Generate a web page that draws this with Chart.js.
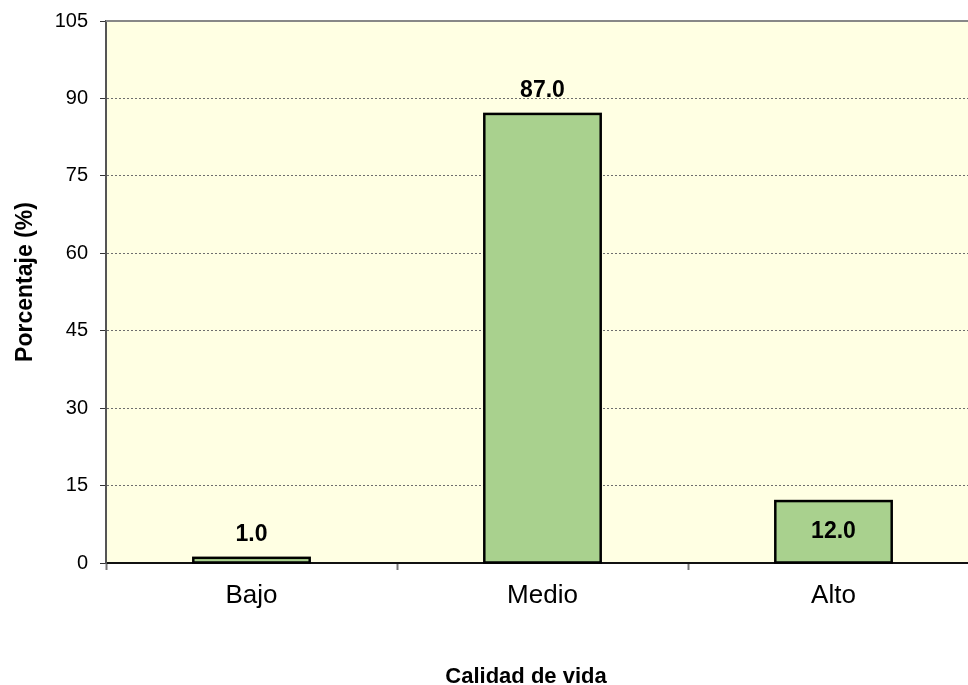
<!DOCTYPE html>
<html>
<head>
<meta charset="utf-8">
<script src="https://cdn.jsdelivr.net/npm/chart.js@4.4.1/dist/chart.umd.min.js"></script>
<style>
    html, body { margin: 0; padding: 0; background: #fff; overflow: hidden; }
    #wrap { width: 980px; height: 685px; }
</style>
</head>
<body>
<div id="wrap"><canvas id="chart" width="980" height="685"></canvas></div>
<script>
// Data
const categories = ['Bajo', 'Medio', 'Alto'];
const percentages = [1.0, 87.0, 12.0];
const yTicks = [0, 15, 30, 45, 60, 75, 90, 105];
const xTitle = 'Calidad de vida';
const yTitle = 'Porcentaje (%)';

// label for these categories goes in the middle of the bar
const insideLabels = ['Alto'];

const FONT = "'Liberation Sans', Arial, sans-serif";

// plot background + top border
const plotBackground = {
    id: 'plotBackground',
    beforeDraw(chart) {
        const { ctx, chartArea: a } = chart;
        ctx.save();
        ctx.fillStyle = '#FFFFE3';
        ctx.fillRect(a.left, a.top, a.right - a.left, a.bottom - a.top);
        ctx.restore();
    },
    afterDatasetsDraw(chart) {
        const { ctx, chartArea: a } = chart;
        ctx.save();
        ctx.strokeStyle = '#888888';
        ctx.lineWidth = 2;
        ctx.beginPath();
        ctx.moveTo(a.left, a.top);
        ctx.lineTo(a.right, a.top);
        ctx.stroke();
        ctx.restore();
    }
};

// Excel style outline, centred on the bar edge (Chart.js draws it inside)
const barOutline = {
    id: 'barOutline',
    afterDatasetsDraw(chart) {
        const { ctx } = chart;
        ctx.save();
        ctx.strokeStyle = '#000';
        ctx.lineWidth = 2.5;
        chart.getDatasetMeta(0).data.forEach(bar => {
            const { x, y, base, width } = bar.getProps(['x', 'y', 'base', 'width'], true);
            ctx.strokeRect(x - width / 2, y, width, base - y);
        });
        ctx.restore();
    }
};

// axis titles (Excel puts them a bit off the plot centre)
const axisTitles = {
    id: 'axisTitles',
    afterDraw(chart) {
        const { ctx, chartArea: a } = chart;
        ctx.save();
        ctx.fillStyle = '#000';
        ctx.textAlign = 'center';
        ctx.textBaseline = 'alphabetic';
        ctx.font = 'bold 22px ' + FONT;
        ctx.fillText(xTitle, 526, 683);
        ctx.translate(32, (a.top + a.bottom) / 2 - 10);
        ctx.rotate(-Math.PI / 2);
        ctx.font = 'bold 23px ' + FONT;
        ctx.fillText(yTitle, 0, 0);
        ctx.restore();
    }
};

// value labels
const valueLabels = {
    id: 'valueLabels',
    afterDatasetsDraw(chart) {
        const { ctx } = chart;
        const meta = chart.getDatasetMeta(0);
        ctx.save();
        ctx.font = 'bold 23px ' + FONT;
        ctx.fillStyle = '#000';
        ctx.textAlign = 'center';
        ctx.textBaseline = 'middle';
        meta.data.forEach((bar, i) => {
            const text = percentages[i].toFixed(1);
            let y;
            if (insideLabels.includes(categories[i])) {
                y = (bar.y + bar.base) / 2;
            } else {
                y = bar.y - 23;
            }
            ctx.fillText(text, bar.x, y);
        });
        ctx.restore();
    }
};

new Chart(document.getElementById('chart'), {
    type: 'bar',
    data: {
        labels: categories,
        datasets: [{
            data: percentages,
            backgroundColor: '#A9D18E',
            borderWidth: 0,
            barPercentage: 0.4,
            categoryPercentage: 1.0
        }]
    },
    options: {
        responsive: false,
        animation: false,
        layout: { padding: { top: 21, right: 1, left: 0, bottom: 0 } },
        plugins: {
            legend: { display: false },
            tooltip: { enabled: false }
        },
        scales: {
            x: {
                offset: true,
                border: { color: '#111', width: 2 },
                grid: {
                    offset: true,
                    drawOnChartArea: false,
                    drawTicks: true,
                    tickLength: 7,
                    tickWidth: 2,
                    tickColor: '#777'
                },
                ticks: {
                    color: '#000',
                    padding: 10,
                    font: { family: FONT, size: 26 }
                },
                afterFit(scale) {
                    scale.height = 122;
                    scale.paddingLeft = 0;
                    scale.paddingRight = 0;
                }
            },
            y: {
                min: 0,
                max: 105,
                afterBuildTicks(scale) {
                    scale.ticks = yTicks.map(v => ({ value: v }));
                },
                border: { color: '#555', width: 2, dash: [2, 2] },
                grid: {
                    color: ctx => (ctx.tick && (ctx.tick.value === 0 || ctx.tick.value === 105)) ? 'rgba(0,0,0,0)' : '#6e6e6e',
                    lineWidth: 1,
                    drawTicks: true,
                    tickLength: 6,
                    tickColor: '#333',
                    tickBorderDash: [0, 0]
                },
                ticks: {
                    color: '#000',
                    padding: 12,
                    font: { family: FONT, size: 20 }
                },
                afterFit(scale) {
                    scale.width = 106;
                    scale.paddingTop = 0;
                    scale.paddingBottom = 0;
                }
            }
        }
    },
    plugins: [plotBackground, barOutline, valueLabels, axisTitles]
});
</script>
</body>
</html>
